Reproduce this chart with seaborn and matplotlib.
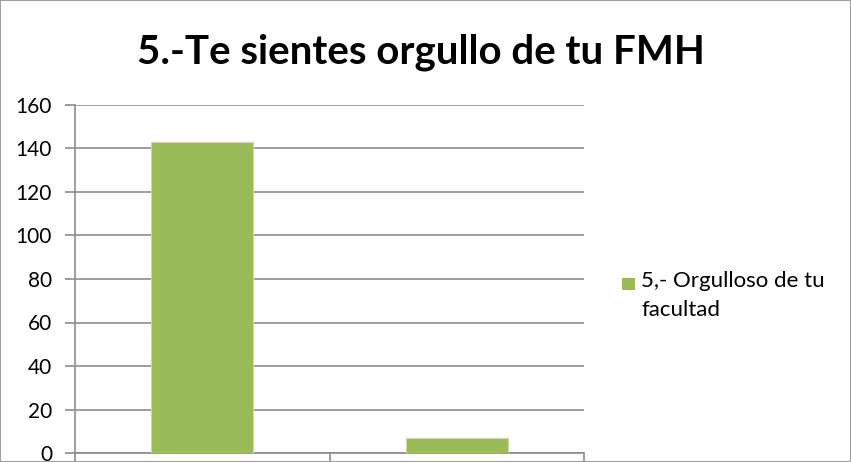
import matplotlib
matplotlib.use("Agg")
import matplotlib.pyplot as plt
import seaborn as sns
from matplotlib.patches import Rectangle

categories = ["Sí", "No"]
values = [143, 7]
series_name = "5,- Orgulloso de tu\nfacultad"
title = "5.-Te sientes orgullo de tu FMH"
yticks = [0, 20, 40, 60, 80, 100, 120, 140, 160]
bar_color = "#9BBB59"

sns.set_style("white")
plt.rcParams['font.family'] = ['Lato', 'DejaVu Sans']
plt.rcParams['text.color'] = 'black'
plt.rcParams['xtick.color'] = 'black'
plt.rcParams['ytick.color'] = 'black'

fig = plt.figure(figsize=(8.51, 4.62), dpi=100)
ax = fig.add_axes([75/851, 9/462, 509/851, 348/462])

sns.barplot(x=categories, y=values, color=bar_color, saturation=1, width=0.4, ax=ax,
            edgecolor="#C9DAA6", linewidth=0.8, zorder=3)

grid_c = "#8C8C8C"
ax.set_ylim(0, 160)
ax.set_xlim(-0.5, 1.5)
ax.set_yticks(yticks)
ax.set_yticklabels([str(t) for t in yticks], fontsize=15)
ax.yaxis.grid(True, color=grid_c, linewidth=1.2, zorder=0)
ax.set_axisbelow(True)
ax.tick_params(axis='y', length=7, width=1.2, color=grid_c, pad=9.5, left=True, labelcolor='black')
ax.set_xticks([-0.5, 0.5, 1.5])
ax.tick_params(axis='x', length=7, width=1.2, color=grid_c, labelbottom=False, bottom=True, direction='out')
for s in ["top", "right"]:
    ax.spines[s].set_visible(False)
for s in ["left", "bottom"]:
    ax.spines[s].set_color(grid_c)
    ax.spines[s].set_linewidth(1.2)
ax.set_xlabel("")
ax.set_ylabel("")

fig.text(421/851, 1 - 52/462, title, ha="center", va="center", fontsize=29,
         fontweight="bold", color="black")

# legend
fig.patches.append(Rectangle((622/851, 1 - 290/462), 13/851, 12/462,
                             transform=fig.transFigure, facecolor=bar_color,
                             edgecolor="none"))
fig.text(641/851, 1 - 271/462, series_name, ha="left", va="top", fontsize=16,
         linespacing=1.55, color="black")

fig.patches.append(Rectangle((0, 0), 1, 1, transform=fig.transFigure, fill=False,
                             edgecolor="#A0A0A0", linewidth=1.5))

fig.savefig("out.png", dpi=100)
